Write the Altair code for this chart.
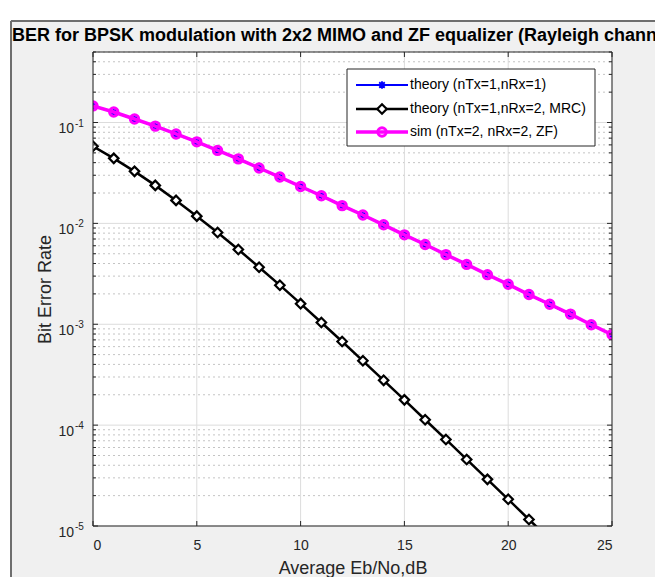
import altair as alt
import pandas as pd

# ---------------- data ----------------
ebno_db = list(range(26))
ber_theory_1x1 = [0.1464, 0.1267, 0.1085, 0.0919, 0.0771, 0.0642, 0.0530, 0.0435, 0.0355,
                  0.0288, 0.0233, 0.0188, 0.0151, 0.0121, 0.00966, 0.00772, 0.00616, 0.00491,
                  0.00391, 0.00311, 0.00248, 0.00197, 0.00157, 0.00125, 0.000992, 0.000788]
ber_theory_mrc = [0.0581, 0.0441, 0.0328, 0.0238, 0.0169, 0.0118, 0.00813, 0.00551, 0.00368,
                  0.00244, 0.00160, 0.00104, 0.000675, 0.000434, 0.000278, 0.000178, 0.000113,
                  7.21e-5, 4.57e-5, 2.90e-5, 1.84e-5, 1.16e-5, 7.4e-6, 4.7e-6, 2.9e-6, 1.9e-6]
ber_sim_zf = [0.1461, 0.1270, 0.1083, 0.0921, 0.0770, 0.0643, 0.0529, 0.0436, 0.0354,
              0.0288, 0.0232, 0.0188, 0.0150, 0.0121, 0.00968, 0.00770, 0.00617, 0.00490,
              0.00392, 0.00310, 0.00249, 0.00197, 0.00158, 0.00126, 0.000990, 0.000790]

series_names = ["theory (nTx=1,nRx=1)", "theory (nTx=1,nRx=2, MRC)", "sim (nTx=2, nRx=2, ZF)"]
title_text = "BER for BPSK modulation with 2x2 MIMO and ZF equalizer (Rayleigh channel)"
x_title = "Average Eb/No,dB"
y_title = "Bit Error Rate"
x_ticks = [0, 5, 10, 15, 20, 25]
y_decades = [1e-1, 1e-2, 1e-3, 1e-4, 1e-5]
y_exponents = ["-1", "-2", "-3", "-4", "-5"]
y_minor = [m * d for d in [1e-5, 1e-4, 1e-3, 1e-2] for m in range(2, 10)] + [0.2, 0.3, 0.4, 0.5]

# ---------------- layout ----------------
W, H = 519, 474
PAD_L, PAD_T, PAD_R, PAD_B = 85, 44, 43, 51
AXC = "#262626"

xscale = alt.Scale(domain=[0, 25], nice=False, zero=False)
yscale = alt.Scale(type="log", domain=[1e-5, 0.5], nice=False)
x_axis = alt.Axis(values=x_ticks, ticks=False, domain=False, grid=False, tickSize=0,
                  labelFontSize=14, labelColor=AXC, labelPadding=19, labelBaseline="middle",
                  labelFont="Liberation Sans", title=x_title, titleFont="Liberation Sans",
                  titleFontSize=18, titleFontWeight="normal", titleColor=AXC,
                  titleBaseline="middle", titleY=42, titleX=W / 2)
y_axis = alt.Axis(labels=False, ticks=False, domain=False, grid=False, title=y_title,
                  titleFont="Liberation Sans", titleFontSize=18, titleFontWeight="normal",
                  titleColor=AXC, titleAngle=270, titleBaseline="middle", titleAlign="center",
                  titleX=-48, titleY=H / 2)

df = pd.DataFrame({"x": ebno_db, "t1": ber_theory_1x1, "mrc": ber_theory_mrc, "zf": ber_sim_zf})
one = pd.DataFrame({"a": [0]})
minor_df = pd.DataFrame({"v": y_minor})
dec_df = pd.DataFrame({"v": y_decades, "e": y_exponents})
xt_df = pd.DataFrame({"v": x_ticks})

X = lambda f: alt.X(f"{f}:Q", scale=xscale, axis=x_axis)
Y = lambda f: alt.Y(f"{f}:Q", scale=yscale, axis=y_axis)

layers = []

# white strips outside figure frame + frame border
layers.append(alt.Chart(one).mark_rect(color="white").encode(
    x=alt.value(-PAD_L), x2=alt.value(W + PAD_R), y=alt.value(-PAD_T), y2=alt.value(-32)))
layers.append(alt.Chart(one).mark_rect(color="white").encode(
    x=alt.value(-PAD_L), x2=alt.value(-83), y=alt.value(-PAD_T), y2=alt.value(H + PAD_B)))
layers.append(alt.Chart(one).mark_rule(color="#6e6e6e", strokeWidth=2).encode(
    x=alt.value(-82), x2=alt.value(W + PAD_R), y=alt.value(-31)))
layers.append(alt.Chart(one).mark_rule(color="#6e6e6e", strokeWidth=2).encode(
    x=alt.value(-82), y=alt.value(-31), y2=alt.value(H + PAD_B)))

# plot area background
layers.append(alt.Chart(one).mark_rect(color="white").encode(
    x=alt.value(0), x2=alt.value(W), y=alt.value(0), y2=alt.value(H)))

# grid
layers.append(alt.Chart(minor_df).mark_rule(color="#c4c4c4", strokeWidth=1, strokeDash=[2, 3]).encode(
    y=Y("v"), x=alt.value(0), x2=alt.value(W)))
layers.append(alt.Chart(dec_df).mark_rule(color="#dcdcdc", strokeWidth=1).encode(
    y=Y("v"), x=alt.value(0), x2=alt.value(W)))
layers.append(alt.Chart(xt_df).mark_rule(color="#dcdcdc", strokeWidth=1).encode(
    x=X("v"), y=alt.value(0), y2=alt.value(H)))

# series
star = "M-1,0L1,0M0,-1L0,1M-0.71,-0.71L0.71,0.71M-0.71,0.71L0.71,-0.71"
layers.append(alt.Chart(df).mark_line(color="#0000ff", strokeWidth=2, clip=True).encode(x=X("x"), y=Y("t1")))
layers.append(alt.Chart(df).mark_point(shape=star, filled=False, color="#0000ff", size=60,
                                       strokeWidth=1.8, opacity=1, clip=True).encode(x=X("x"), y=Y("t1")))
layers.append(alt.Chart(df).mark_line(color="#000000", strokeWidth=2.5, clip=True).encode(x=X("x"), y=Y("mrc")))
layers.append(alt.Chart(df).mark_point(shape="diamond", filled=True, fill="white", stroke="black",
                                       size=90, strokeWidth=2.2, opacity=1, fillOpacity=1, clip=True).encode(
    x=X("x"), y=Y("mrc")))
layers.append(alt.Chart(df).mark_line(color="#ff00ff", strokeWidth=3.5, clip=True).encode(x=X("x"), y=Y("zf")))
layers.append(alt.Chart(df).mark_point(shape="circle", filled=False, color="#ff00ff", size=70,
                                       strokeWidth=3, opacity=1, clip=True).encode(x=X("x"), y=Y("zf")))

# frame box
layers.append(alt.Chart(one).mark_rect(fillOpacity=0, stroke=AXC, strokeWidth=1).encode(
    x=alt.value(0), x2=alt.value(W), y=alt.value(0), y2=alt.value(H)))

# inner ticks
for x0, x1 in [(0, 5), (W - 5, W)]:
    layers.append(alt.Chart(dec_df).mark_rule(color=AXC, strokeWidth=1).encode(
        y=Y("v"), x=alt.value(x0), x2=alt.value(x1)))
for x0, x1 in [(0, 3), (W - 3, W)]:
    layers.append(alt.Chart(minor_df).mark_rule(color=AXC, strokeWidth=1).encode(
        y=Y("v"), x=alt.value(x0), x2=alt.value(x1)))
for y0, y1 in [(0, 5), (H - 5, H)]:
    layers.append(alt.Chart(xt_df).mark_rule(color=AXC, strokeWidth=1).encode(
        x=X("v"), y=alt.value(y0), y2=alt.value(y1)))

# y tick labels 10^-n
layers.append(alt.Chart(dec_df).mark_text(text="10", align="right", baseline="alphabetic", dy=10.5,
                                          fontSize=14, font="Liberation Sans", color=AXC).encode(
    y=Y("v"), x=alt.value(-19)))
layers.append(alt.Chart(dec_df).mark_text(align="left", baseline="alphabetic", dy=4,
                                          fontSize=10, font="Liberation Sans", color=AXC).encode(
    y=Y("v"), x=alt.value(-18), text="e:N"))

# title
layers.append(alt.Chart(one).mark_text(text=title_text, align="left", baseline="alphabetic",
                                       fontSize=18, fontWeight="bold", font="Liberation Sans",
                                       color="black").encode(x=alt.value(-81), y=alt.value(-11)))

# legend
LX0, LX1, LY0, LY1 = 254, 502, 17, 94
row_y = [33, 57, 80]
layers.append(alt.Chart(one).mark_rect(fill="white", stroke=AXC, strokeWidth=1).encode(
    x=alt.value(LX0), x2=alt.value(LX1), y=alt.value(LY0), y2=alt.value(LY1)))
styles = [
    dict(color="#0000ff", lw=2, mark=dict(shape=star, filled=False, color="#0000ff", size=60, strokeWidth=1.8)),
    dict(color="#000000", lw=2.5, mark=dict(shape="diamond", filled=True, fill="white", stroke="black",
                                            size=90, strokeWidth=2.2, fillOpacity=1)),
    dict(color="#ff00ff", lw=3.5, mark=dict(shape="circle", filled=False, color="#ff00ff", size=70, strokeWidth=3)),
]
for i, name in enumerate(series_names):
    ldf = pd.DataFrame({"name": [name]})
    st = styles[i]
    layers.append(alt.Chart(ldf).mark_rule(color=st["color"], strokeWidth=st["lw"]).encode(
        x=alt.value(263), x2=alt.value(315), y=alt.value(row_y[i])))
    layers.append(alt.Chart(ldf).mark_point(opacity=1, **st["mark"]).encode(
        x=alt.value(289), y=alt.value(row_y[i])))
    layers.append(alt.Chart(ldf).mark_text(align="left", baseline="middle", fontSize=14,
                                           font="Liberation Sans", color="black").encode(
        x=alt.value(317), y=alt.value(row_y[i]), text="name:N"))

chart = alt.layer(*layers).properties(
    width=W, height=H,
    padding={"left": PAD_L, "top": PAD_T, "right": PAD_R, "bottom": PAD_B},
    autosize=alt.AutoSizeParams(type="none"),
    background="#f0f0f0",
).configure_view(stroke=None)

chart.save("out.html", embed_options={"renderer": "svg", "actions": False})
